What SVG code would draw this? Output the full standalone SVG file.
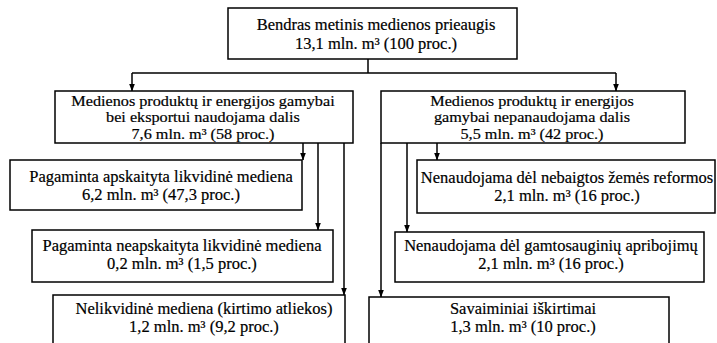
<svg xmlns="http://www.w3.org/2000/svg" width="717" height="343" viewBox="0 0 717 343">
<defs>
<marker id="arr" viewBox="0 0 8 8" refX="7.5" refY="4" markerWidth="8" markerHeight="8" markerUnits="userSpaceOnUse" orient="auto">
<path d="M0,1 L8,4 L0,7 z" fill="#000"/>
</marker>
<style>
.box{fill:#fff;stroke:#000;stroke-width:1.5}
.t{font-family:"Liberation Serif","Times New Roman",serif;font-size:16.5px;fill:#000;stroke:#000;stroke-width:0.2;text-anchor:middle}
.s{font-size:15px}
.c{fill:none;stroke:#000;stroke-width:1.5}
.a{fill:none;stroke:#000;stroke-width:1.5;marker-end:url(#arr)}
</style>
</defs>
<rect width="717" height="343" fill="#fff"/>
<g id="connectors">
<path class="c" d="M368,59 V73 M132,73 H616"/>
<path class="a" d="M132,73 V91"/>
<path class="a" d="M616,73 V91"/>
<path class="a" d="M303,143 V160"/>
<path class="a" d="M318,143 V230"/>
<path class="a" d="M344,143 V295"/>
<path class="a" d="M437,143 V160"/>
<path class="a" d="M407,143 V232"/>
<path class="a" d="M381,143 V297"/>
</g>
<g id="n0">
<rect class="box" x="228" y="8" width="289" height="51"/>
<text class="t" x="376" y="30">Bendras metinis medienos prieaugis</text>
<text class="t" x="376" y="49">13,1 mln. m³ (100 proc.)</text>
</g>
<g id="n1">
<rect class="box" x="55" y="91" width="298" height="52"/>
<g transform="matrix(1.08,0,0,1,-16.24,0)">
<text class="t s" x="203" y="106">Medienos produktų ir energijos gamybai</text>
<text class="t s" x="203" y="122.5">bei eksportui naudojama dalis</text>
<text class="t s" x="203" y="139">7,6 mln. m³ (58 proc.)</text>
</g>
</g>
<g id="n2">
<rect class="box" x="381" y="91" width="304" height="52"/>
<g transform="matrix(1.08,0,0,1,-42.56,0)">
<text class="t s" x="532" y="106">Medienos produktų ir energijos</text>
<text class="t s" x="532" y="122.5">gamybai nepanaudojama dalis</text>
<text class="t s" x="532" y="139">5,5 mln. m³ (42 proc.)</text>
</g>
</g>
<g id="n3">
<rect class="box" x="10" y="160" width="292" height="50"/>
<text class="t" x="161" y="182">Pagaminta apskaityta likvidinė mediena</text>
<text class="t" x="161" y="200">6,2 mln. m³ (47,3 proc.)</text>
</g>
<g id="n4">
<rect class="box" x="32" y="230" width="301" height="52"/>
<text class="t" x="182" y="251">Pagaminta neapskaityta likvidinė mediena</text>
<text class="t" x="182" y="269">0,2 mln. m³ (1,5 proc.)</text>
</g>
<g id="n5">
<rect class="box" x="53" y="295" width="292" height="55"/>
<text class="t" x="204" y="314">Nelikvidinė mediena (kirtimo atliekos)</text>
<text class="t" x="204" y="332">1,2 mln. m³ (9,2 proc.)</text>
</g>
<g id="n6">
<rect class="box" x="417" y="160" width="298" height="53"/>
<text class="t" x="567" y="183">Nenaudojama dėl nebaigtos žemės reformos</text>
<text class="t" x="567" y="201">2,1 mln. m³ (16 proc.)</text>
</g>
<g id="n7">
<rect class="box" x="395" y="232" width="309" height="50"/>
<text class="t" x="551" y="251">Nenaudojama dėl gamtosauginių apribojimų</text>
<text class="t" x="551" y="269">2,1 mln. m³ (16 proc.)</text>
</g>
<g id="n8">
<rect class="box" x="369" y="297" width="300" height="55"/>
<text class="t" x="523" y="314">Savaiminiai iškirtimai</text>
<text class="t" x="523" y="332">1,3 mln. m³ (10 proc.)</text>
</g>
</svg>
